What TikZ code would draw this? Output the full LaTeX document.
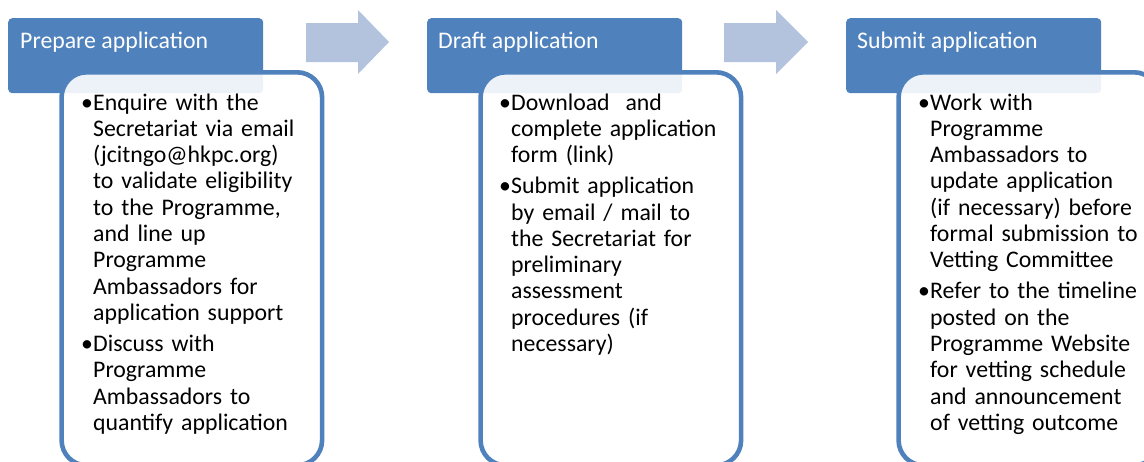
\documentclass[tikz,border=0pt]{standalone}
\usepackage{fontspec}
\setmainfont{Carlito}
\definecolor{acc}{HTML}{4F81BD}
\definecolor{arr}{HTML}{B3C2DD}
\newcommand{\bl}{\leavevmode\llap{\makebox[12pt][l]{\textbullet}}}
\tikzset{
  hdr/.style={fill=acc, rounded corners=4pt, draw=none, inner sep=0pt, anchor=north west, minimum width=255pt, minimum height=75pt},
  hdrtxt/.style={text=white, inner sep=0pt, anchor=base west, font=\fontsize{23.8}{26.3}\selectfont},
  bodybox/.style={draw=acc, line width=4.6pt, fill=white, fill opacity=0.9, rounded corners=25pt, inner sep=0pt, anchor=north west, minimum width=260.5pt, minimum height=393pt},
  bodytxt/.style={text=black, inner sep=0pt, anchor=base west, align=left, text width=250pt, font=\fontsize{23.8}{26.3}\selectfont},
  arrowshape/.style={fill=arr, draw=none}
}
\begin{document}
\begin{tikzpicture}[x=1pt,y=-1pt]
\useasboundingbox (0,0) rectangle (1144,461);
\clip (0,0) rectangle (1144,461);
\fill[white] (0,0) rectangle (1144,461);
% arrows
\fill[arrowshape] (306,23) -- (358,23) -- (358,10) -- (389,42) -- (358,74) -- (358,62) -- (306,62) -- cycle;
\fill[arrowshape] (724,23) -- (776,23) -- (776,10) -- (808,42) -- (776,74) -- (776,62) -- (724,62) -- cycle;
% headers
\node[hdr] (h1) at (8,18) {};
\node[hdr] (h2) at (427,18) {};
\node[hdr] (h3) at (846,18) {};
\node[hdrtxt] (h1t) at (20,48) {Prepare application};
\node[hdrtxt] (h2t) at (438,48) {Draft application};
\node[hdrtxt] (h3t) at (857,48) {Submit application};
% bodies
\node[bodybox] (b1) at (59.3,70) {};
\node[bodybox] (b2) at (478.3,70) {};
\node[bodybox] (b3) at (896.3,70) {};
% body texts
\node[bodytxt] (t1) at (93,110) {\bl Enquire with the\\
Secretariat via email\\
(jcitngo@hkpc.org)\\
to validate eligibility\\
to the Programme,\\
and line up\\
Programme\\
Ambassadors for\\
application support\\[4.8pt]
\bl Discuss with\\
Programme\\
Ambassadors to\\
quantify application};
\node[bodytxt] (t2) at (511,110) {\bl Download\ \ and\\
complete application\\
form (link)\\[4.8pt]
\bl Submit application\\
by email / mail to\\
the Secretariat for\\
preliminary\\
assessment\\
procedures (if\\
necessary)};
\node[bodytxt] (t3) at (930,110) {\bl Work with\\
Programme\\
Ambassadors to\\
update application\\
(if necessary) before\\
formal submission to\\
Vetting Committee\\[4.8pt]
\bl Refer to the timeline\\
posted on the\\
Programme Website\\
for vetting schedule\\
and announcement\\
of vetting outcome};
\end{tikzpicture}
\end{document}
